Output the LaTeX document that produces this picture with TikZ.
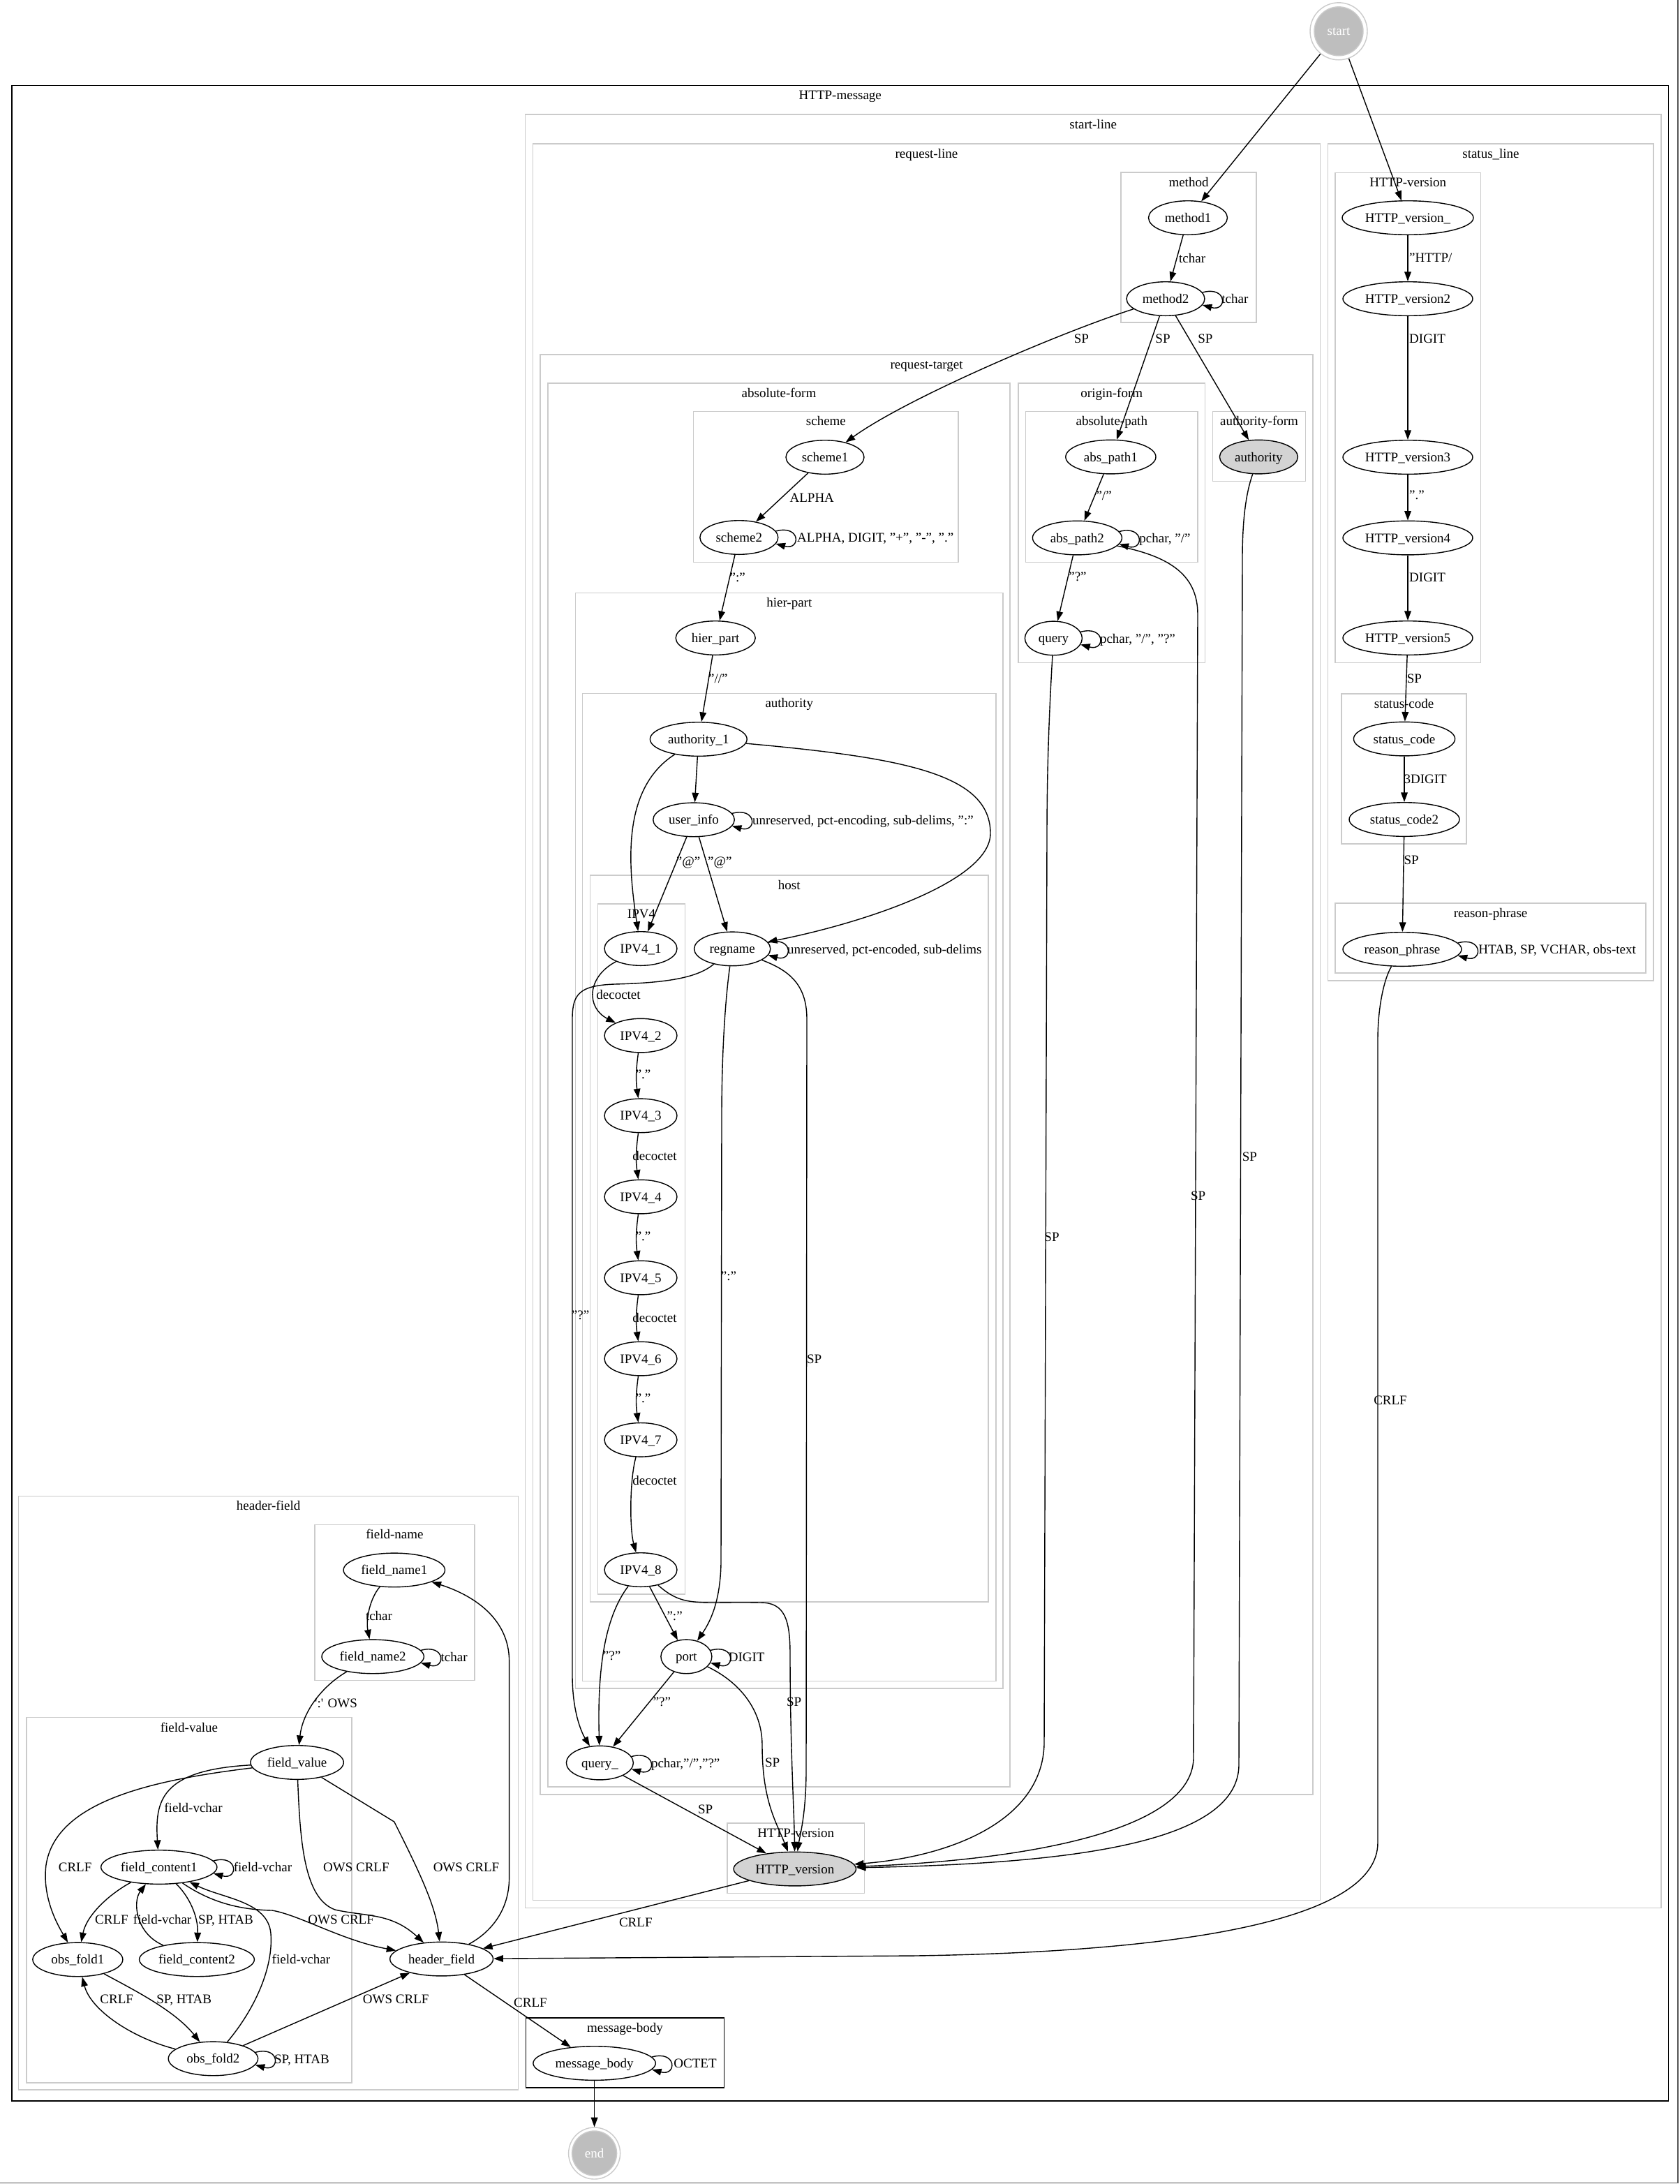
\documentclass[tikz,border=0pt]{standalone}
\usepackage{fontspec}
\setmainfont{Liberation Serif}
\usetikzlibrary{arrows.meta,shapes.geometric}
\definecolor{clgrey}{HTML}{CBCBCB}
\definecolor{nodegrey}{HTML}{D3D3D3}
\definecolor{termgrey}{HTML}{BEBEBE}
\definecolor{framegrey}{HTML}{555555}
\newcommand\gvfont{\fontsize{9.5}{11}\selectfont}
\begin{document}
\begin{tikzpicture}[x=1pt,y=-1pt,
  st/.style={ellipse,draw,line width=0.7pt,inner sep=0pt,minimum height=24.3pt,
    text height=6.4pt,text depth=0pt,font=\gvfont},
  gst/.style={st,fill=nodegrey},
  term/.style={circle,draw=clgrey,line width=0.7pt,inner sep=0pt,text=white,font=\gvfont},
  conn/.style={line width=0.7pt,-{Triangle[length=6.8pt,width=4.8pt]}},
  lp/.style={to path={.. controls +(18,-5) and +(18,5) .. (\tikztotarget)}},
  cl/.style={draw=clgrey,line width=0.8pt},
  blk/.style={draw=black,line width=0.9pt},
  cltitle/.style={font=\gvfont,inner sep=0pt,anchor=base},
  lab/.style={font=\gvfont,inner sep=0pt,anchor=base},
  labw/.style={font=\gvfont,inner sep=0pt,anchor=base west},
]
\useasboundingbox (0,0) rectangle (1203.5,1564.5);
\fill[white] (0,0) rectangle (1203.5,1564.5);
\draw[framegrey,line width=0.6pt] (1202,0) -- (1202,1563.9) -- (0,1563.9);

% ---------- clusters ----------
\draw[blk] (8.5,61.2) rectangle (1195.2,1505);
\node[cltitle] (t-msg) at (601.9,71.4) {HTTP-message};
\draw[cl] (376.3,82) rectangle (1189.9,1366.7);
\node[cltitle] (t-sl) at (783.1,92.2) {start-line};
\draw[cl] (381.7,103) rectangle (945.7,1361.3);
\node[cltitle] (t-rl) at (663.7,113.2) {request-line};
\draw[cl] (803,123.6) rectangle (900,231);
\node[cltitle] (t-meth) at (851.5,133.8) {method};
\draw[cl] (387,254) rectangle (940.6,1285.5);
\node[cltitle] (t-rt) at (663.8,264.2) {request-target};
\draw[cl] (392.5,274.4) rectangle (723.5,1280);
\node[cltitle] (t-af) at (558,284.6) {absolute-form};
\draw[cl] (496.7,294.7) rectangle (686.6,402.8);
\node[cltitle] (t-sch) at (591.7,304.9) {scheme};
\draw[cl] (412.2,424.7) rectangle (718.5,1209.5);
\node[cltitle] (t-hp) at (565.4,434.9) {hier-part};
\draw[cl] (417.2,496.7) rectangle (713.5,1204.2);
\node[cltitle] (t-auth) at (565.4,506.9) {authority};
\draw[cl] (422.7,627) rectangle (708,1147.5);
\node[cltitle] (t-host) at (565.4,637.2) {host};
\draw[cl] (428.2,647.5) rectangle (490.7,1142);
\node[cltitle] (t-ip) at (459.5,657.7) {IPV4};
\draw[cl] (729.5,274.4) rectangle (863.3,474.7);
\node[cltitle] (t-of) at (796.4,284.6) {origin-form};
\draw[cl] (734.7,294.7) rectangle (858,402.8);
\node[cltitle] (t-ap) at (796.4,304.9) {absolute-path};
\draw[cl] (868.7,294.7) rectangle (935.3,344.7);
\node[cltitle] (t-auf) at (902,304.9) {authority-form};
\draw[cl] (521,1306) rectangle (619.2,1356.2);
\node[cltitle] (t-hvr) at (570.1,1316.2) {HTTP-version};
\draw[cl] (951.3,103) rectangle (1184.6,702.5);
\node[cltitle] (t-stl) at (1068,113.2) {status\_line};
\draw[cl] (956.5,123.7) rectangle (1060.7,474.7);
\node[cltitle] (t-hvs) at (1008.6,133.9) {HTTP-version};
\draw[cl] (961,497) rectangle (1050.6,604.6);
\node[cltitle] (t-sc) at (1005.8,507.2) {status-code};
\draw[cl] (956.5,647) rectangle (1179,697);
\node[cltitle] (t-rp) at (1067.8,657.2) {reason-phrase};
\draw[cl] (13.3,1071.7) rectangle (371.3,1497);
\node[cltitle] (t-hf) at (192.3,1081.9) {header-field};
\draw[cl] (225.4,1092.2) rectangle (340,1203.8);
\node[cltitle] (t-fn) at (282.7,1102.4) {field-name};
\draw[cl] (18.9,1230.3) rectangle (252,1492);
\node[cltitle] (t-fv) at (135.5,1240.5) {field-value};
\draw[blk] (376.7,1445.5) rectangle (518.7,1495.5);
\node[cltitle] (t-mb) at (447.7,1455.7) {message-body};

% ---------- terminal nodes ----------
\coordinate (startc) at (959,22.4);
\filldraw[fill=termgrey,draw=clgrey,line width=0.7pt] (startc) circle[radius=17.5pt];
\node[term,minimum size=41pt] (start) at (startc) {start};
\coordinate (finc) at (425.8,1542.5);
\filldraw[fill=termgrey,draw=clgrey,line width=0.7pt] (finc) circle[radius=16pt];
\node[term,minimum size=37pt] (finish) at (finc) {end};

% ---------- states ----------
\node[st,minimum width=56.5pt] (m1) at (851,156) {method1};
\node[st,minimum width=56pt] (m2) at (835,214) {method2};
\node[st,minimum width=56pt] (sch1) at (591,327.5) {scheme1};
\node[st,minimum width=56pt] (sch2) at (529.4,385) {scheme2};
\node[st,minimum width=57pt] (hier) at (512.6,457) {hier\_part};
\node[st,minimum width=64.6pt] (abs1) at (795.7,327.3) {abs\_path1};
\node[st,minimum width=64pt] (abs2) at (771.7,385.3) {abs\_path2};
\node[st,minimum width=41pt] (qry) at (754.7,457.2) {query};
\node[gst,minimum width=56pt] (auth) at (901.7,327.3) {authority};
\node[st,minimum width=69.4pt] (auth1) at (500.4,529.5) {authority\_1};
\node[st,minimum width=58.3pt] (uinfo) at (497,587.2) {user\_info};
\node[st,minimum width=52pt] (ip1) at (459,679.5) {IPV4\_1};
\node[st,minimum width=52pt] (ip2) at (459,741.8) {IPV4\_2};
\node[st,minimum width=52pt] (ip3) at (459,799.2) {IPV4\_3};
\node[st,minimum width=52pt] (ip4) at (459,857.3) {IPV4\_4};
\node[st,minimum width=52pt] (ip5) at (459,915.3) {IPV4\_5};
\node[st,minimum width=52pt] (ip6) at (459,973.3) {IPV4\_6};
\node[st,minimum width=52pt] (ip7) at (459,1031.4) {IPV4\_7};
\node[st,minimum width=52pt] (ip8) at (459,1124.5) {IPV4\_8};
\node[st,minimum width=54.6pt] (regn) at (524.6,679.7) {regname};
\node[st,minimum width=36.5pt] (port) at (491.7,1186.7) {port};
\node[st,minimum width=48pt] (qry2) at (429.7,1262.8) {query\_};
\node[gst,minimum width=87.7pt] (httpv) at (569.4,1338.8) {HTTP\_version};
\node[st,minimum width=94pt] (hv0) at (1008.5,156) {HTTP\_version\_};
\node[st,minimum width=93pt] (hv2) at (1008.5,214) {HTTP\_version2};
\node[st,minimum width=93pt] (hv3) at (1008.5,327.5) {HTTP\_version3};
\node[st,minimum width=93pt] (hv4) at (1008.5,385.3) {HTTP\_version4};
\node[st,minimum width=93pt] (hv5) at (1008.5,457) {HTTP\_version5};
\node[st,minimum width=72.6pt] (sc1) at (1006,529.3) {status\_code};
\node[st,minimum width=79pt] (sc2) at (1006,587) {status\_code2};
\node[st,minimum width=85pt] (rp) at (1004.5,680) {reason\_phrase};
\node[st,minimum width=72.7pt] (fn1) at (282.4,1124.7) {field\_name1};
\node[st,minimum width=73.2pt] (fn2) at (267.1,1186.7) {field\_name2};
\node[st,minimum width=66.7pt] (fv) at (212.8,1262.5) {field\_value};
\node[st,minimum width=83.1pt] (fc1) at (113.9,1337.5) {field\_content1};
\node[st,minimum width=82.4pt] (fc2) at (141,1403.7) {field\_content2};
\node[st,minimum width=64.5pt] (of1) at (55.7,1403.7) {obs\_fold1};
\node[st,minimum width=73.9pt] (hf) at (316.3,1403.3) {header\_field};
\node[st,minimum width=64.2pt] (of2) at (152.7,1474.7) {obs\_fold2};
\node[st,minimum width=87.7pt] (mb) at (425.8,1478) {message\_body};

% ---------- transitions: start-line ----------
\draw[conn] (start) -- (m1);
\draw[conn] (start) -- (hv0);
\draw[conn] (m1) -- (m2);
\draw[conn] ([shift={(-2,-4.5)}]m2.east) to[lp] ([shift={(-2,4.5)}]m2.east);
\draw[conn] (m2) .. controls (760,238) and (650,285) .. (sch1);
\draw[conn] (m2) -- (abs1);
\draw[conn] (m2) -- (auth);
\draw[conn] (sch1) -- (sch2);
\draw[conn] ([shift={(-2,-4.5)}]sch2.east) to[lp] ([shift={(-2,4.5)}]sch2.east);
\draw[conn] (sch2) -- (hier);
\draw[conn] (hier) -- (auth1);
\draw[conn] (abs1) -- (abs2);
\draw[conn] ([shift={(-2.3,-4.5)}]abs2.east) to[lp] ([shift={(-2.3,4.5)}]abs2.east);
\draw[conn] (abs2) -- (qry);
\draw[conn] ([shift={(-1.5,-4.5)}]qry.east) to[lp] ([shift={(-1.5,4.5)}]qry.east);
\draw[conn] (auth1) -- (uinfo);
\draw[conn] ([shift={(-2.1,-4.5)}]uinfo.east) to[lp] ([shift={(-2.1,4.5)}]uinfo.east);
\draw[conn] (auth1) .. controls (445,565) and (450,620) .. (ip1);
\draw[conn] (uinfo) -- (ip1);
\draw[conn] (uinfo) -- (regn);
\draw[conn] (auth1) .. controls (650,543) and (709.5,555) .. (709.5,597)
   .. controls (709.5,632) and (615,662) .. (regn);
\draw[conn] ([shift={(-2,-4.5)}]regn.east) to[lp] ([shift={(-2,4.5)}]regn.east);
\draw[conn] (ip1) .. controls (420,700) and (420,722) .. (ip2);
\draw[conn] (ip2) to[bend right=8] (ip3);
\draw[conn] (ip3) to[bend right=8] (ip4);
\draw[conn] (ip4) to[bend right=8] (ip5);
\draw[conn] (ip5) to[bend right=8] (ip6);
\draw[conn] (ip6) to[bend right=8] (ip7);
\draw[conn] (ip7) .. controls (451,1060) and (451,1095) .. (ip8);
\draw[conn] (ip8) -- (port);
\draw[conn] (ip8) .. controls (432,1160) and (428,1200) .. (qry2);
\draw[conn] (ip8) .. controls (490,1152) and (500,1147) .. (545,1148)
   .. controls (562,1148) and (566,1160) .. (566,1185)
   .. controls (566,1250) and (569,1300) .. (httpv);
\draw[conn] (regn) .. controls (565,695) and (578,705) .. (578,730) -- (577.5,1270)
   .. controls (577.3,1300) and (573,1315) .. (httpv);
\draw[conn] (regn) .. controls (519,720) and (517,760) .. (517,800) -- (516.5,1120)
   .. controls (516,1145) and (510,1160) .. (port);
\draw[conn] (regn) .. controls (500,700) and (480,704) .. (440,705)
   .. controls (415,706) and (410,712) .. (410,730) -- (410,1200)
   .. controls (410,1225) and (416,1240) .. (qry2);
\draw[conn] ([shift={(-1.3,-4.5)}]port.east) to[lp] ([shift={(-1.3,4.5)}]port.east);
\draw[conn] (port) -- (qry2);
\draw[conn] (port) .. controls (530,1205) and (546,1225) .. (546,1250)
   .. controls (546,1290) and (556,1305) .. (httpv);
\draw[conn] ([shift={(-1.7,-4.5)}]qry2.east) to[lp] ([shift={(-1.7,4.5)}]qry2.east);
\draw[conn] (qry2) -- (httpv);
\draw[conn] (qry) .. controls (751,520) and (750,560) .. (750,600) -- (748,1250)
   .. controls (746,1305) and (680,1330) .. (httpv);
\draw[conn] (abs2) .. controls (835,398) and (858,410) .. (858,440) -- (855,1260)
   .. controls (853,1315) and (720,1333) .. (httpv);
\draw[conn] (auth) .. controls (893,352) and (890,370) .. (890,400) -- (887.5,1265)
   .. controls (886,1322) and (760,1335) .. (httpv);
\draw[conn] (hv0) -- (hv2);
\draw[conn] (hv2) -- (hv3);
\draw[conn] (hv3) -- (hv4);
\draw[conn] (hv4) -- (hv5);
\draw[conn] (hv5) -- (sc1);
\draw[conn] (sc1) -- (sc2);
\draw[conn] (sc2) -- (rp);
\draw[conn] ([shift={(-3,-4.5)}]rp.east) to[lp] ([shift={(-3,4.5)}]rp.east);

% ---------- transitions: towards header-field ----------
\draw[conn] (httpv) -- (hf);
\draw[conn] (rp) .. controls (992,700) and (987,720) .. (987,745) -- (987,1320)
   .. controls (987,1375) and (850,1398) .. (656,1401) -- (hf);
\draw[conn] (hf) .. controls (350,1385) and (364.8,1370) .. (364.8,1345) -- (364.8,1190)
   .. controls (364.8,1160) and (340,1143) .. (fn1);
\draw[conn] (fn1) .. controls (265,1145) and (262,1160) .. (fn2);
\draw[conn] ([shift={(-2.6,-4.5)}]fn2.east) to[lp] ([shift={(-2.6,4.5)}]fn2.east);
\draw[conn] (fn2) .. controls (232,1207) and (217,1225) .. (fv);
\draw[conn] (fv) .. controls (110,1275) and (40,1290) .. (33,1336)
   .. controls (30,1360) and (42,1380) .. (of1);
\draw[conn] (fv) .. controls (115,1268) and (111,1290) .. (fc1);
\draw[conn] (fv) .. controls (215,1320) and (218,1360) .. (240,1368)
   .. controls (262,1373) and (280,1370) .. (hf);
\draw[conn] (fv) -- (282.4,1305) .. controls (300,1340) and (312,1365) .. (hf);
\draw[conn] ([shift={(-2.9,-4.5)}]fc1.east) to[lp] ([shift={(-2.9,4.5)}]fc1.east);
\draw[conn] (fc1) .. controls (78,1357) and (62,1372) .. (of1);
\draw[conn] (fc2) .. controls (97,1385) and (95,1362) .. (fc1);
\draw[conn] (fc1) .. controls (135,1358) and (142,1372) .. (fc2);
\draw[conn] (fc1) .. controls (150,1362) and (170,1368) .. (195,1368.5)
   .. controls (215,1372) and (245,1390) .. (hf);
\draw[conn] (of2) .. controls (182,1440) and (196,1410) .. (194,1385)
   .. controls (192,1362) and (160,1360) .. (fc1);
\draw[conn] (of1) .. controls (95,1425) and (125,1440) .. (of2);
\draw[conn] (of2) .. controls (95,1460) and (65,1440) .. (of1);
\draw[conn] (of2) -- (hf);
\draw[conn] ([shift={(-2.3,-4.5)}]of2.east) to[lp] ([shift={(-2.3,4.5)}]of2.east);
\draw[conn] (hf) -- (mb);
\draw[conn] ([shift={(-3,-4.5)}]mb.east) to[lp] ([shift={(-3,4.5)}]mb.east);
\draw[conn] (mb) -- (finish);

% ---------- transition labels ----------
\node[labw] (lb1) at (844.4,188) {tchar};
\node[labw] (lb2) at (875,217.3) {tchar};
\node[lab] (lb3) at (774.7,245.8) {SP};
\node[lab] (lb4) at (833,245.8) {SP};
\node[lab] (lb5) at (863.4,245.8) {SP};
\node[labw] (lb6) at (565.6,359.6) {ALPHA};
\node[labw] (lb7) at (570.9,388.3) {ALPHA, DIGIT, "+", "-", "."};
\node[lab] (lb8) at (528.4,416.6) {":"};
\node[lab] (lb9) at (514.4,489.1) {"//"};
\node[lab] (lb10) at (790.8,358) {"/"};
\node[labw] (lb11) at (816,388.6) {pchar, "/"};
\node[lab] (lb12) at (772,416.3) {"?"};
\node[labw] (lb13) at (787.8,460.5) {pchar, "/", "?"};
\node[labw] (lb14) at (538.9,590.5) {unreserved, pct-encoding, sub-delims, ":"};
\node[lab] (lb15) at (493,620) {"@"};
\node[lab] (lb16) at (515.7,620) {"@"};
\node[labw] (lb17) at (563.8,683) {unreserved, pct-encoded, sub-delims};
\node[labw] (lb18) at (427,715.5) {decoctet};
\node[lab] (lb19) at (460.8,772.9) {"."};
\node[labw] (lb20) at (453,831.3) {decoctet};
\node[lab] (lb21) at (460.8,888.6) {"."};
\node[labw] (lb22) at (453,947.3) {decoctet};
\node[lab] (lb23) at (460.8,1004.7) {"."};
\node[labw] (lb24) at (453,1063.7) {decoctet};
\node[lab] (lb25) at (483.3,1160.8) {":"};
\node[lab] (lb26) at (438.3,1189.1) {"?"};
\node[lab] (lb27) at (415.8,945) {"?"};
\node[lab] (lb28) at (522,917.3) {":"};
\node[lab] (lb29) at (583.3,976.6) {SP};
\node[lab] (lb30) at (568.8,1222.3) {SP};
\node[labw] (lb31) at (521.7,1190) {DIGIT};
\node[lab] (lb32) at (474.2,1222.1) {"?"};
\node[labw] (lb33) at (466.3,1266.1) {pchar,"/","?"};
\node[lab] (lb34) at (553.3,1265.8) {SP};
\node[lab] (lb35) at (505.3,1299) {SP};
\node[lab] (lb36) at (753.5,889.3) {SP};
\node[lab] (lb37) at (858.3,859.6) {SP};
\node[lab] (lb38) at (895.2,831.6) {SP};
\node[lab] (lb39) at (455.4,1380) {CRLF};
\node[lab] (lb40) at (996,1006.3) {CRLF};
\node[labw] (lb41) at (1009.4,187.5) {"HTTP/};
\node[labw] (lb42) at (1009.4,245.6) {DIGIT};
\node[labw] (lb43) at (1009.4,357.9) {"."};
\node[labw] (lb44) at (1009.4,416.5) {DIGIT};
\node[labw] (lb45) at (1007.7,489.3) {SP};
\node[labw] (lb46) at (1005.6,561.3) {3DIGIT};
\node[labw] (lb47) at (1005.6,619.3) {SP};
\node[labw] (lb48) at (1059,683.3) {HTAB, SP, VCHAR, obs-text};
\node[labw] (lb49) at (261.8,1160.8) {tchar};
\node[labw] (lb50) at (315.6,1190) {tchar};
\node[labw] (lb51) at (225.4,1223) {\textquotesingle:\textquotesingle{} OWS};
\node[lab] (lb52) at (53.8,1340.5) {CRLF};
\node[labw] (lb53) at (117.5,1298.3) {field-vchar};
\node[lab] (lb54) at (255.2,1340.5) {OWS CRLF};
\node[lab] (lb55) at (334,1340.5) {OWS CRLF};
\node[labw] (lb56) at (167.2,1340.8) {field-vchar};
\node[lab] (lb57) at (80,1378) {CRLF};
\node[lab] (lb58) at (116.3,1378) {field-vchar};
\node[labw] (lb59) at (141.8,1378) {SP, HTAB};
\node[lab] (lb60) at (244.3,1378) {OWS CRLF};
\node[lab] (lb61) at (215.7,1406.6) {field-vchar};
\node[labw] (lb62) at (112,1435.3) {SP, HTAB};
\node[lab] (lb63) at (83.6,1435.3) {CRLF};
\node[lab] (lb64) at (283.6,1435.3) {OWS CRLF};
\node[labw] (lb65) at (196.3,1478) {SP, HTAB};
\node[lab] (lb66) at (380,1437.8) {CRLF};
\node[labw] (lb67) at (482.5,1481.3) {OCTET};
\end{tikzpicture}
\end{document}
